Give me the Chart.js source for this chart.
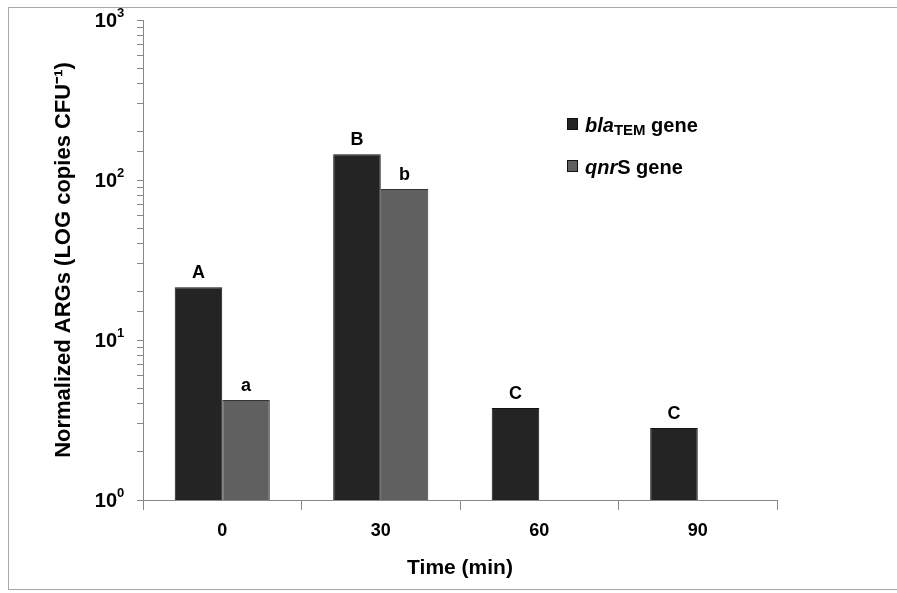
<!DOCTYPE html>
<html>
<head>
<meta charset="utf-8">
<script src="https://cdn.jsdelivr.net/npm/chart.js@4/dist/chart.umd.min.js"></script>
<style>
  html, body { margin: 0; padding: 0; background: #fff; }
  #wrap { position: relative; width: 897px; height: 593px; }
  #frame { position: absolute; left: 8px; top: 7px; width: 900px; height: 583px; border: 1px solid #a8a8a8; box-sizing: border-box; }
  canvas { position: absolute; left: 0; top: 0; }
</style>
</head>
<body>
<div id="wrap">
  <div id="frame"></div>
  <canvas id="argChart" width="897" height="593"></canvas>
</div>
<script>
// data
const categories = ["0", "30", "60", "90"];
const blaValues = [21.4, 145, 3.76, 2.82];
const qnrValues = [4.22, 88, null, null];
const blaLetters = ["A", "B", "C", "C"];
const qnrLetters = ["a", "b", null, null];
const yExponents = [0, 1, 2, 3];

const FONT = "Arial, 'Liberation Sans', sans-serif";

// letters above the bars
const letterPlugin = {
  id: "letters",
  afterDatasetsDraw(chart) {
    const ctx = chart.ctx;
    const sets = [blaLetters, qnrLetters];
    ctx.save();
    ctx.font = "bold 18px " + FONT;
    ctx.fillStyle = "#000";
    ctx.textAlign = "center";
    ctx.textBaseline = "alphabetic";
    sets.forEach((letters, di) => {
      const meta = chart.getDatasetMeta(di);
      letters.forEach((t, i) => {
        const bar = meta.data[i];
        if (!t || !bar || bar.skip) return;
        ctx.fillText(t, bar.x, bar.y - 9);
      });
    });
    ctx.restore();
  }
};

// 10^n labels on the log axis
const powerLabels = {
  id: "powerLabels",
  afterDraw(chart) {
    const ctx = chart.ctx;
    const y = chart.scales.y;
    ctx.save();
    ctx.fillStyle = "#000";
    ctx.textBaseline = "alphabetic";
    yExponents.forEach(e => {
      const py = y.getPixelForValue(Math.pow(10, e));
      ctx.font = "bold 20px " + FONT;
      ctx.textAlign = "right";
      ctx.fillText("10", 117, py + 7);
      ctx.font = "bold 13px " + FONT;
      ctx.textAlign = "left";
      ctx.fillText(String(e), 117, py - 3);
    });
    ctx.restore();
  }
};

// legend inside the plot
const legendBox = {
  id: "legendBox",
  afterDraw(chart) {
    const ctx = chart.ctx;
    ctx.save();
    const rows = [
      { fill: "#242424", y: 118, parts: [["italic bold 20px", "bla", 0], ["bold 15px", "TEM", 3], ["bold 20px", " gene", 0]] },
      { fill: "#606060", y: 160, parts: [["italic bold 20px", "qnr", 0], ["bold 20px", "S gene", 0]] }
    ];
    rows.forEach(r => {
      ctx.fillStyle = r.fill;
      ctx.fillRect(567, r.y, 11, 12);
      ctx.strokeStyle = "#111";
      ctx.lineWidth = 1;
      ctx.strokeRect(567.5, r.y + 0.5, 10, 11);
      let x = 585;
      ctx.fillStyle = "#000";
      ctx.textAlign = "left";
      r.parts.forEach(([f, t, dy]) => {
        ctx.font = f + " " + FONT;
        ctx.fillText(t, x, r.y + 14 + dy);
        x += ctx.measureText(t).width;
      });
    });
    ctx.restore();
  }
};

new Chart(document.getElementById("argChart").getContext("2d"), {
  type: "bar",
  data: {
    labels: categories,
    datasets: [
      {
        label: "blaTEM gene",
        data: blaValues,
        backgroundColor: "#242424",
        borderColor: "#111",
        borderWidth: 1,
        categoryPercentage: 0.6,
        barPercentage: 1.0
      },
      {
        label: "qnrS gene",
        data: qnrValues,
        backgroundColor: "#606060",
        borderColor: "#333",
        borderWidth: 1,
        categoryPercentage: 0.6,
        barPercentage: 1.0
      }
    ]
  },
  options: {
    responsive: false,
    animation: false,
    layout: { padding: { top: 20, right: 120, bottom: 0, left: 0 } },
    plugins: {
      legend: { display: false },
      tooltip: { enabled: false }
    },
    scales: {
      x: {
        afterFit: s => { s.height = 93; },
        grid: { drawOnChartArea: false, offset: true, tickLength: 10, color: "#888" },
        border: { color: "#888" },
        ticks: { color: "#000", padding: 10, font: { family: FONT, size: 18, weight: "bold" } },
        title: {
          display: true,
          text: "Time (min)",
          color: "#000",
          padding: { top: 0, bottom: 12 },
          font: { family: FONT, size: 21, weight: "bold" }
        }
      },
      y: {
        type: "logarithmic",
        min: 1,
        max: 1000,
        afterFit: s => { s.width = 143; },
        grid: { drawOnChartArea: false, tickLength: 6, color: "#888" },
        border: { color: "#888" },
        ticks: { autoSkip: false, callback: () => "" },
        title: {
          display: true,
          text: "Normalized ARGs (LOG copies CFU⁻¹)",
          color: "#000",
          padding: { top: 51, bottom: 0 },
          font: { family: FONT, size: 22, weight: "bold" }
        }
      }
    }
  },
  plugins: [letterPlugin, powerLabels, legendBox]
});
</script>
</body>
</html>
